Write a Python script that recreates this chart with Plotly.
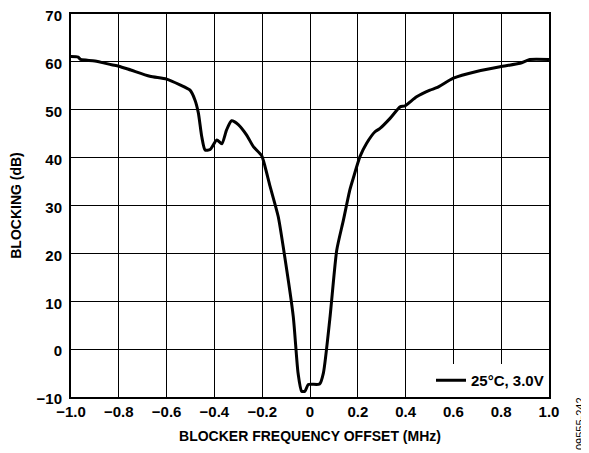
import plotly.graph_objects as go

offset_mhz = [-1.0, -0.97, -0.96, -0.9, -0.83, -0.8, -0.75, -0.67, -0.6, -0.544, -0.502, -0.481,
              -0.467, -0.453, -0.439, -0.418, -0.39, -0.369, -0.349, -0.328, -0.3, -0.265,
              -0.237, -0.202, -0.188, -0.167, -0.133, -0.11, -0.07, -0.05, -0.035, -0.021,
              -0.007, 0.04, 0.056, 0.084, 0.112, 0.14, 0.167, 0.181, 0.209, 0.237, 0.272,
              0.293, 0.335, 0.377, 0.397, 0.446, 0.502, 0.53, 0.6, 0.697, 0.795, 0.879,
              0.92, 1.0]
blocking_db = [61.1, 61.0, 60.5, 60.2, 59.4, 59.1, 58.3, 57.0, 56.4, 55.2, 54.1, 52.0,
               49.3, 44.4, 41.6, 41.7, 43.7, 42.9, 45.8, 47.7, 46.9, 44.7,
               42.3, 40.4, 38.1, 34.0, 27.7, 20.7, 6.8, -5.0, -8.8, -8.8,
               -7.4, -7.3, -5.0, 6.8, 20.7, 27.0, 33.3, 35.7, 40.2, 43.0, 45.4,
               46.1, 48.2, 50.6, 50.8, 52.7, 54.1, 54.6, 56.6, 58.0, 59.0, 59.7,
               60.5, 60.5]

x_ticks = [-1.0, -0.8, -0.6, -0.4, -0.2, 0, 0.2, 0.4, 0.6, 0.8, 1.0]
x_tick_labels = ["\u22121.0", "\u22120.8", "\u22120.6", "\u22120.4", "\u22120.2", "0",
                 "0.2", "0.4", "0.6", "0.8", "1.0"]
y_ticks = [-10, 0, 10, 20, 30, 40, 50, 60, 70]
y_tick_labels = ["\u221210", "0", "10", "20", "30", "40", "50", "60", "70"]

font_family = "Liberation Sans, Arial, sans-serif"

W, H = 581, 445
L, R, T, B = 63, 40, 6, 56
pw, ph = W - L - R, H - T - B

fig = go.Figure()
fig.add_trace(go.Scatter(
    x=offset_mhz, y=blocking_db, mode="lines",
    line=dict(color="black", width=3, shape="spline", smoothing=0.6),
    name="<b>25°C, 3.0V</b>",
))

fig.update_layout(
    width=W, height=H,
    margin=dict(l=L, r=R, t=T, b=B, autoexpand=False),
    paper_bgcolor="white", plot_bgcolor="white",
    font=dict(family=font_family, color="black"),
    showlegend=True,
    legend=dict(x=1.0, y=0.0, xanchor="right", yanchor="bottom",
                bgcolor="white", borderwidth=0,
                font=dict(size=15, family=font_family, color="black"),
                tracegroupgap=0, itemwidth=30),
    xaxis=dict(range=[-1.0, 1.0], tickvals=x_ticks,
               ticktext=["<b>%s</b>" % t for t in x_tick_labels],
               showgrid=True, gridcolor="black", gridwidth=1,
               showline=True, linecolor="black", linewidth=2, mirror=True,
               ticks="", ticklabeloverflow="allow",
               tickfont=dict(size=15, family=font_family, color="black"),
               title=dict(text="<b>BLOCKER FREQUENCY OFFSET (MHz)</b>",
                          font=dict(size=14, family=font_family), standoff=12),
               zeroline=False, fixedrange=True, automargin=False),
    yaxis=dict(range=[-10, 70], tickvals=y_ticks,
               ticktext=["<b>%s</b>" % t for t in y_tick_labels],
               showgrid=True, gridcolor="black", gridwidth=1,
               showline=True, linecolor="black", linewidth=2, mirror=True,
               ticks="", ticklabeloverflow="allow", ticklabelstandoff=4,
               ticklabelshift=2,
               tickfont=dict(size=15, family=font_family, color="black"),
               title=dict(text="<b>BLOCKING (dB)</b>",
                          font=dict(size=14, family=font_family), standoff=14),
               zeroline=False, fixedrange=True, automargin=False),
)

fig.add_annotation(
    text="09555-242", xref="paper", yref="paper",
    x=(572 - L) / pw, y=(H - B - 416) / ph, xanchor="center", yanchor="middle",
    showarrow=False, textangle=-90, font=dict(size=11, family=font_family, color="black"),
)

fig.write_html("out.html")
